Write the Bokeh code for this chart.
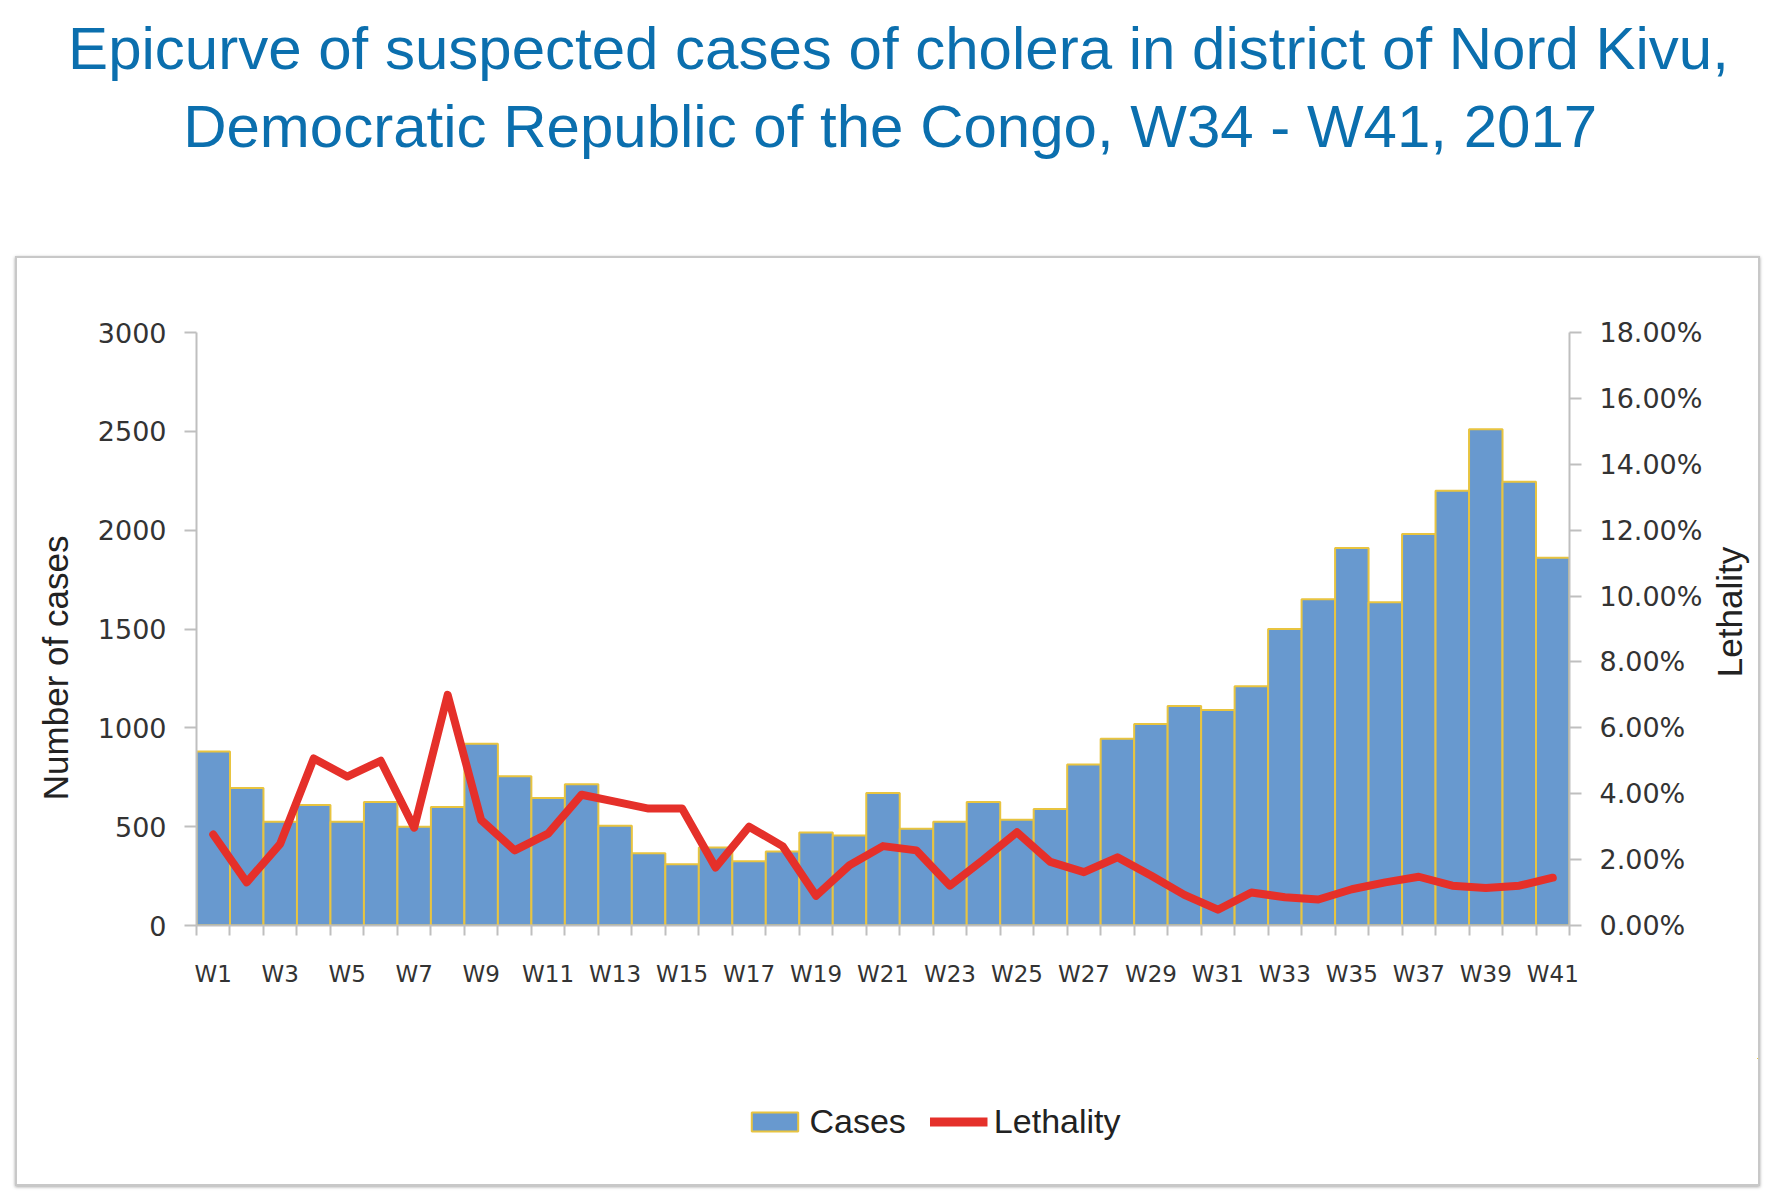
import math
from bokeh.plotting import figure
from bokeh.models import (Range1d, LinearAxis, FixedTicker, SingleIntervalTicker,
                          NumeralTickFormatter, Legend, LegendItem, Spacer)
from bokeh.layouts import column, row
from bokeh.embed import file_html
from bokeh.resources import INLINE
from bokeh.core.properties import value

title_lines = ["Epicurve of suspected cases of cholera in district of Nord Kivu,",
               "Democratic Republic of the Congo, W34 - W41,  2017"]
y_title = "Number of cases"
y2_title = "Lethality"

weeks = ["W1", "W2", "W3", "W4", "W5", "W6", "W7", "W8", "W9", "W10",
         "W11", "W12", "W13", "W14", "W15", "W16", "W17", "W18", "W19", "W20",
         "W21", "W22", "W23", "W24", "W25", "W26", "W27", "W28", "W29", "W30",
         "W31", "W32", "W33", "W34", "W35", "W36", "W37", "W38", "W39", "W40", "W41"]

cases = [880, 695, 525, 610, 525, 625, 500, 600, 920, 755,
         645, 715, 505, 365, 310, 395, 325, 375, 470, 455,
         670, 490, 525, 625, 535, 590, 815, 945, 1020, 1110,
         1090, 1210, 1500, 1650, 1910, 1635, 1980, 2200, 2510, 2245, 1860]

lethality_pct = [2.76, 1.31, 2.48, 5.07, 4.52, 5.00, 2.97, 7.00, 3.20, 2.28,
                 2.79, 3.97, 3.76, 3.55, 3.55, 1.76, 3.00, 2.41, 0.90, 1.83,
                 2.41, 2.28, 1.21, 2.00, 2.83, 1.93, 1.62, 2.07, 1.52, 0.93,
                 0.48, 1.00, 0.86, 0.79, 1.10, 1.31, 1.48, 1.21, 1.14, 1.21, 1.45]

case_ticks = [0, 500, 1000, 1500, 2000, 2500, 3000]

x = [i + 1 for i in range(len(weeks))]
lethality = [v / 100.0 for v in lethality_pct]
label_pos = x[::2]
boundaries = [i + 0.5 for i in range(len(weeks) + 1)]

TITLE_FONT = "Liberation Sans"
LABEL_FONT = "Liberation Sans"
TICK_FONT = "DejaVu Sans"
GRAY = "#BFBFBF"
TXT = "#333333"
BAR_FILL = "#6899CF"
BAR_LINE = "#E8C440"
RED = "#E5302A"

# layout sizes (px)
BOX_W, BOX_H = 1741, 926
P2_W, P2_H = 1692, 800

# ---------- title figure ----------
p1 = figure(width=1770, height=256, x_range=Range1d(0, 1770), y_range=Range1d(256, 0),
            x_axis_type=None, y_axis_type=None, toolbar_location=None,
            output_backend="svg", min_border=0, outline_line_color=None)
p1.grid.visible = False
p1.text(x=[898, 898], y=[48, 126], text=title_lines, text_align="center",
        text_baseline="middle", text_font=value(TITLE_FONT), text_font_size="60px",
        text_color="#0B6FAE")

# ---------- chart figure ----------
p2 = figure(width=P2_W, height=P2_H, x_range=Range1d(0.5, len(weeks) + 0.5),
            y_range=Range1d(0, 3000), toolbar_location=None, output_backend="svg",
            min_border_left=179, min_border_right=140, min_border_top=74,
            min_border_bottom=133, outline_line_color=None)
p2.grid.visible = False
p2.extra_y_ranges = {"leth": Range1d(0, 0.18)}

bars = p2.vbar(x=x, top=cases, width=1.0, fill_color=BAR_FILL,
               line_color=BAR_LINE, line_width=2)
line = p2.line(x=x, y=lethality, y_range_name="leth", line_color=RED,
               line_width=8, line_join="round", line_cap="round")

xa = p2.xaxis[0]
xa.ticker = FixedTicker(ticks=label_pos, minor_ticks=boundaries)
xa.major_label_overrides = {p: weeks[p - 1] for p in label_pos}
xa.axis_line_color = GRAY
xa.axis_line_width = 2
xa.major_tick_line_color = None
xa.major_tick_out = 10
xa.minor_tick_line_color = GRAY
xa.minor_tick_line_width = 2
xa.minor_tick_in = 0
xa.minor_tick_out = 10
xa.major_label_standoff = 25
xa.major_label_text_font = TICK_FONT
xa.major_label_text_font_size = "23px"
xa.major_label_text_color = TXT

ya = p2.yaxis[0]
ya.ticker = FixedTicker(ticks=case_ticks)
ya.axis_line_color = GRAY
ya.axis_line_width = 2
ya.major_tick_line_color = GRAY
ya.major_tick_line_width = 2
ya.major_tick_in = 0
ya.major_tick_out = 12
ya.minor_tick_line_color = None
ya.major_label_standoff = 18
ya.major_label_text_font = TICK_FONT
ya.major_label_text_font_size = "27px"
ya.major_label_text_color = TXT
ya.axis_label = y_title + "\u00a0" * 8
ya.axis_label_text_font = LABEL_FONT
ya.axis_label_text_font_size = "35px"
ya.axis_label_text_font_style = "normal"
ya.axis_label_text_color = "#222222"
ya.axis_label_standoff = 20

ra = LinearAxis(y_range_name="leth", ticker=SingleIntervalTicker(interval=0.02),
                formatter=NumeralTickFormatter(format="0.00%"))
ra.axis_line_color = GRAY
ra.axis_line_width = 2
ra.major_tick_line_color = GRAY
ra.major_tick_line_width = 2
ra.major_tick_in = 0
ra.major_tick_out = 12
ra.minor_tick_line_color = None
ra.major_label_standoff = 18
ra.major_label_text_font = TICK_FONT
ra.major_label_text_font_size = "27px"
ra.major_label_text_color = TXT
p2.add_layout(ra, "right")

# ---------- right axis title strip (reads bottom-to-top) ----------
P4_W = BOX_W - P2_W
p4 = figure(width=P4_W, height=P2_H, x_range=Range1d(0, P4_W), y_range=Range1d(0, P2_H),
            x_axis_type=None, y_axis_type=None, toolbar_location=None,
            output_backend="svg", min_border=0, outline_line_color=None)
p4.grid.visible = False
p4.text(x=[20], y=[423], text=[y2_title], angle=math.pi / 2, text_align="center",
        text_baseline="middle", text_font=value(LABEL_FONT), text_font_size="35px",
        text_color="#222222")

# ---------- legend strip ----------
P3_H = BOX_H - P2_H
p3 = figure(width=1650, height=P3_H, x_range=Range1d(-3, -2), y_range=Range1d(-3, -2),
            x_axis_type=None, y_axis_type=None, toolbar_location=None,
            output_backend="svg", min_border=0, outline_line_color=None)
p3.grid.visible = False
lbars = p3.vbar(x=x, top=cases, width=1.0, fill_color=BAR_FILL, line_color=BAR_LINE,
                line_width=2)
lline = p3.line(x=x, y=lethality, line_color=RED, line_width=9, line_cap="butt")
legend = Legend(items=[LegendItem(label="Cases", renderers=[lbars]),
                       LegendItem(label="Lethality", renderers=[lline])],
                orientation="horizontal", location="center",
                border_line_color=None, background_fill_alpha=0,
                glyph_width=58, glyph_height=24, label_standoff=6, spacing=24,
                padding=0, margin=0,
                label_text_font=LABEL_FONT, label_text_font_size="34px",
                label_text_color="#222222")
p3.add_layout(legend, "center")

box = column(row(p2, p4), row(Spacer(width=91, height=P3_H), p3))
box.styles = {"border": "2px solid #C8C8C8", "box-shadow": "0px 1px 3px rgba(0,0,0,0.35)"}

layout = column(p1, row(Spacer(width=15, height=BOX_H), box))
open("out.html", "w").write(file_html(layout, INLINE, "Epicurve"))
